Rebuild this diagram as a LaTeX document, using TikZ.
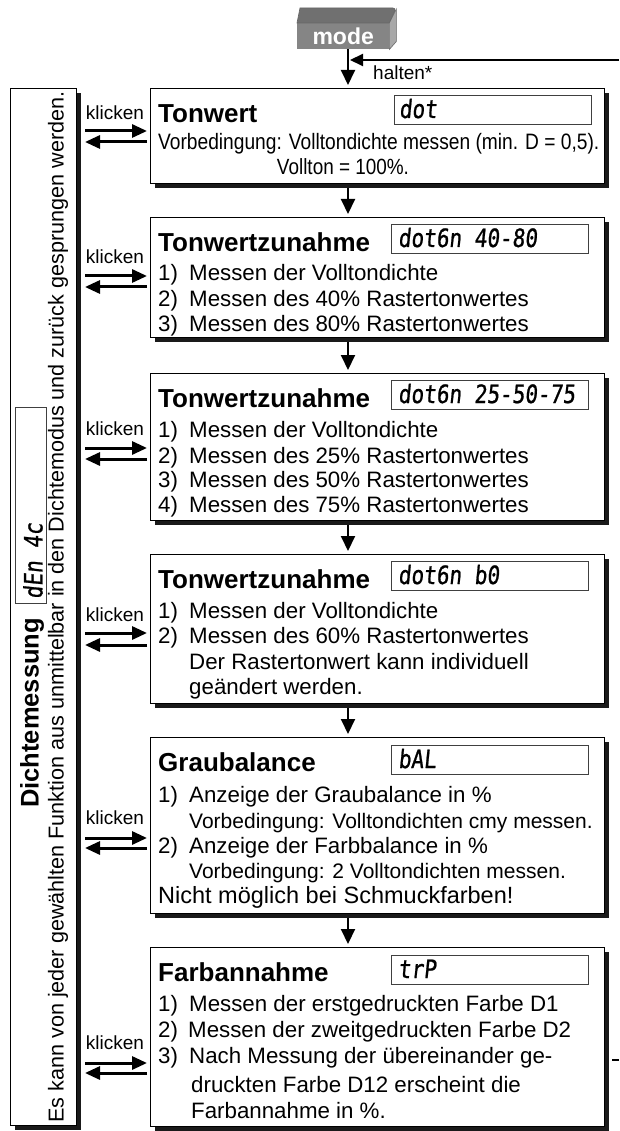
\documentclass[tikz,border=0pt]{standalone}
\usepackage{fontspec}
\setmainfont{Liberation Sans}
\newfontfamily\lcdfont[FakeSlant=0.12,FakeBold=1]{DejaVu Sans Mono}
\usetikzlibrary{arrows.meta,shadows,calc}
\definecolor{modefront}{HTML}{858585}
\definecolor{modetop}{HTML}{707070}
\definecolor{moderight}{HTML}{A8A8A8}
\definecolor{shadowcol}{HTML}{1A1A1A}
\newcommand{\lcdstr}[1]{\scalebox{1}[1.2]{#1}}
\tikzset{
  mainbox/.style={draw=black, line width=1.1pt, fill=white, anchor=north west, inner sep=0pt,
    drop shadow={shadow xshift=4pt, shadow yshift=-4pt, opacity=1, fill=shadowcol}},
  lcdbox/.style={draw=black!75, line width=0.8pt, fill=white, anchor=north west, inner sep=0pt,
    minimum width=197pt, minimum height=29pt},
  lcdtext/.style={font=\lcdfont\fontsize{21}{21}\selectfont, anchor=base west, inner sep=0pt},
  titletext/.style={font=\bfseries\fontsize{26}{26}\selectfont, anchor=base west, inner sep=0pt},
  bodytext/.style={font=\fontsize{22.3}{22.3}\selectfont, anchor=base west, inner sep=0pt},
  smalltext/.style={font=\fontsize{21}{21}\selectfont, anchor=base west, inner sep=0pt},
  clicktext/.style={font=\fontsize{19}{19}\selectfont, inner sep=0pt},
  flowarrow/.style={line width=2pt, -{Triangle[length=15pt,width=14pt]}, shorten >=3pt},
  clickarrow/.style={line width=3pt, -{Triangle[length=15pt,width=13pt]}},
  retarrow/.style={line width=2pt, -{Triangle[length=13pt,width=12pt]}},
}
\begin{document}
\begin{tikzpicture}[x=1pt,y=-1pt]
\fill[white] (0,0) rectangle (619,1131);
\useasboundingbox (0,0) rectangle (619,1131);
\coordinate (axis) at (348,0);

% mode button
\node[fill=modefront, text=white, font=\bfseries\fontsize{23}{23}\selectfont,
  minimum width=92pt, minimum height=26pt, inner sep=0pt, anchor=north west] (mode) at (297,23) {mode};
\fill[modetop, draw=black!60, line width=0.6pt] (mode.north west) -- ++(3,-15) -- ++(90,0)
  [rounded corners=3pt] -- ++(6,0) [sharp corners] -- (mode.north east) -- cycle;
\fill[moderight, draw=black!60, line width=0.6pt] (mode.north east) -- ($(mode.north east)+(7,-14)$)
  -- ($(mode.south east)+(7,-8)$) -- (mode.south east) -- cycle;

% left panel
\node[mainbox, minimum width=66pt, minimum height=1037pt] (panel) at (10,88) {};
\node[font=\fontsize{21.6}{21.6}\selectfont, rotate=90, inner sep=0pt, anchor=center] (note) at (58,607)
  {Es kann von jeder gewählten Funktion aus unmittelbar in den Dichtemodus und zurück gesprungen werden.};
\node[font=\bfseries\fontsize{25.5}{25.5}\selectfont, rotate=90, inner sep=0pt, anchor=west] (dm) at (32,808) {Dichtemessung};
\node[draw=black!75, line width=0.8pt, rotate=90, minimum width=196pt, minimum height=31pt, inner sep=0pt] (denbox) at (30.5,505) {};
\node[lcdtext, rotate=90, anchor=west] (dentext) at (33,599) {\lcdstr{dEn 4c}};

% main boxes
\node[mainbox, minimum width=454pt, minimum height=95pt] (B1) at (150,88) {};
\node[mainbox, minimum width=454pt, minimum height=120pt] (B2) at (150,217) {};
\node[mainbox, minimum width=454pt, minimum height=147pt] (B3) at (150,373) {};
\node[mainbox, minimum width=454pt, minimum height=149pt] (B4) at (150,554) {};
\node[mainbox, minimum width=454pt, minimum height=176pt] (B5) at (150,737) {};
\node[mainbox, minimum width=454pt, minimum height=179pt] (B6) at (150,947) {};

% displays
\node[lcdbox] (D1) at (394,95) {};
\node[lcdbox] (D2) at (391,224) {};
\node[lcdbox] (D3) at (391,380) {};
\node[lcdbox] (D4) at (391,561) {};
\node[lcdbox] (D5) at (391,745) {};
\node[lcdbox] (D6) at (391,955) {};
\node[lcdtext] (L1) at (399,118) {\lcdstr{dot}};
\node[lcdtext] (L2) at (398,247) {\lcdstr{dot6n 40-80}};
\node[lcdtext] (L3) at (398,403) {\lcdstr{dot6n 25-50-75}};
\node[lcdtext] (L4) at (398,584) {\lcdstr{dot6n b0}};
\node[lcdtext] (L5) at (398,768) {\lcdstr{bAL}};
\node[lcdtext] (L6) at (398,978) {\lcdstr{trP}};

% box 1
\node[titletext] (t1) at (158,122.5) {Tonwert};
\node[bodytext] (b1a) at (158,150) {\scalebox{0.86}[1]{Vorbedingung: Volltondichte messen (min. D = 0,5).}};
\node[font=\fontsize{22}{22}\selectfont, anchor=base, inner sep=0pt] (b1b) at (343,175) {\scalebox{0.86}[1]{Vollton = 100\%.}};

% box 2
\node[titletext] (t2) at (158,251.5) {Tonwertzunahme};
\node[bodytext] (n2a) at (158,280) {1)};
\node[bodytext] (b2a) at (189,280) {Messen der Volltondichte};
\node[bodytext] (n2b) at (158,306) {2)};
\node[bodytext] (b2b) at (189,306) {Messen des 40\% Rastertonwertes};
\node[bodytext] (n2c) at (158,331) {3)};
\node[bodytext] (b2c) at (189,331) {Messen des 80\% Rastertonwertes};

% box 3
\node[titletext] (t3) at (158,407.5) {Tonwertzunahme};
\node[bodytext] (n3a) at (158,437) {1)};
\node[bodytext] (b3a) at (189,437) {Messen der Volltondichte};
\node[bodytext] (n3b) at (158,463) {2)};
\node[bodytext] (b3b) at (189,463) {Messen des 25\% Rastertonwertes};
\node[bodytext] (n3c) at (158,487) {3)};
\node[bodytext] (b3c) at (189,487) {Messen des 50\% Rastertonwertes};
\node[bodytext] (n3d) at (158,512) {4)};
\node[bodytext] (b3d) at (189,512) {Messen des 75\% Rastertonwertes};

% box 4
\node[titletext] (t4) at (158,588.5) {Tonwertzunahme};
\node[bodytext] (n4a) at (158,618) {1)};
\node[bodytext] (b4a) at (189,618) {Messen der Volltondichte};
\node[bodytext] (n4b) at (158,643) {2)};
\node[bodytext] (b4b) at (189,643) {Messen des 60\% Rastertonwertes};
\node[bodytext] (b4c) at (189,669) {Der Rastertonwert kann individuell};
\node[bodytext] (b4d) at (189,694) {geändert werden.};

% box 5
\node[titletext] (t5) at (158,771.5) {Graubalance};
\node[bodytext] (n5a) at (158,802) {1)};
\node[bodytext] (b5a) at (189,802) {Anzeige der Graubalance in \%};
\node[smalltext] (b5b) at (189,828) {Vorbedingung: Volltondichten cmy messen.};
\node[bodytext] (n5c) at (158,853) {2)};
\node[bodytext] (b5c) at (189,853) {Anzeige der Farbbalance in \%};
\node[smalltext] (b5d) at (189,878) {Vorbedingung: 2 Volltondichten messen.};
\node[font=\fontsize{23.5}{23.5}\selectfont, anchor=base west, inner sep=0pt] (b5e) at (158,903) {Nicht möglich bei Schmuckfarben!};

% box 6
\node[titletext] (t6) at (158,981.5) {Farbannahme};
\node[bodytext] (n6a) at (158,1011) {1)};
\node[bodytext] (b6a) at (189,1011) {Messen der erstgedruckten Farbe D1};
\node[bodytext] (n6b) at (158,1037) {2)};
\node[bodytext] (b6b) at (188,1037) {Messen der zweitgedruckten Farbe D2};
\node[bodytext] (n6c) at (158,1063) {3)};
\node[bodytext] (b6c) at (189,1063) {Nach Messung der übereinander ge-};
\node[bodytext] (b6d) at (191,1092) {druckten Farbe D12 erscheint die};
\node[bodytext] (b6e) at (191,1118) {Farbannahme in \%.};

% flow arrows
\draw[flowarrow] (mode.south -| axis) -- (B1.north -| axis);
\draw[flowarrow] ($(B1.south -| axis)+(0,4)$) -- (B2.north -| axis);
\draw[flowarrow] ($(B2.south -| axis)+(0,4)$) -- (B3.north -| axis);
\draw[flowarrow] ($(B3.south -| axis)+(0,4)$) -- (B4.north -| axis);
\draw[flowarrow] ($(B4.south -| axis)+(0,4)$) -- (B5.north -| axis);
\draw[flowarrow] ($(B5.south -| axis)+(0,4)$) -- (B6.north -| axis);

% return (halten)
\coordinate (retstart) at (619,60);
\coordinate (retend) at (350,60);
\draw[retarrow] (retstart) -- (retend);
\node[font=\fontsize{19}{19}\selectfont, anchor=west, inner sep=0pt] (halten) at (373,73) {halten*};
\coordinate (tickA) at (612,1060);
\coordinate (tickB) at (619,1060);
\draw[line width=1.5pt] (tickA) -- (tickB);

% klicken
\foreach \b/\ky/\ra/\la in {B1/113/131/142, B2/257/276/287, B3/429/448/459, B4/615/633/645, B5/818/838/848, B6/1043/1063/1073}{
  \node[clicktext] (k\b) at (115,\ky) {klicken};
  \coordinate (kr\b) at (85,\ra);
  \coordinate (kl\b) at (85,\la);
  \draw[clickarrow, shorten >=3pt] (kr\b) -- (\b.west |- kr\b);
  \draw[clickarrow] ($(\b.west |- kl\b)+(-3,0)$) -- (kl\b);
}
\end{tikzpicture}
\end{document}
